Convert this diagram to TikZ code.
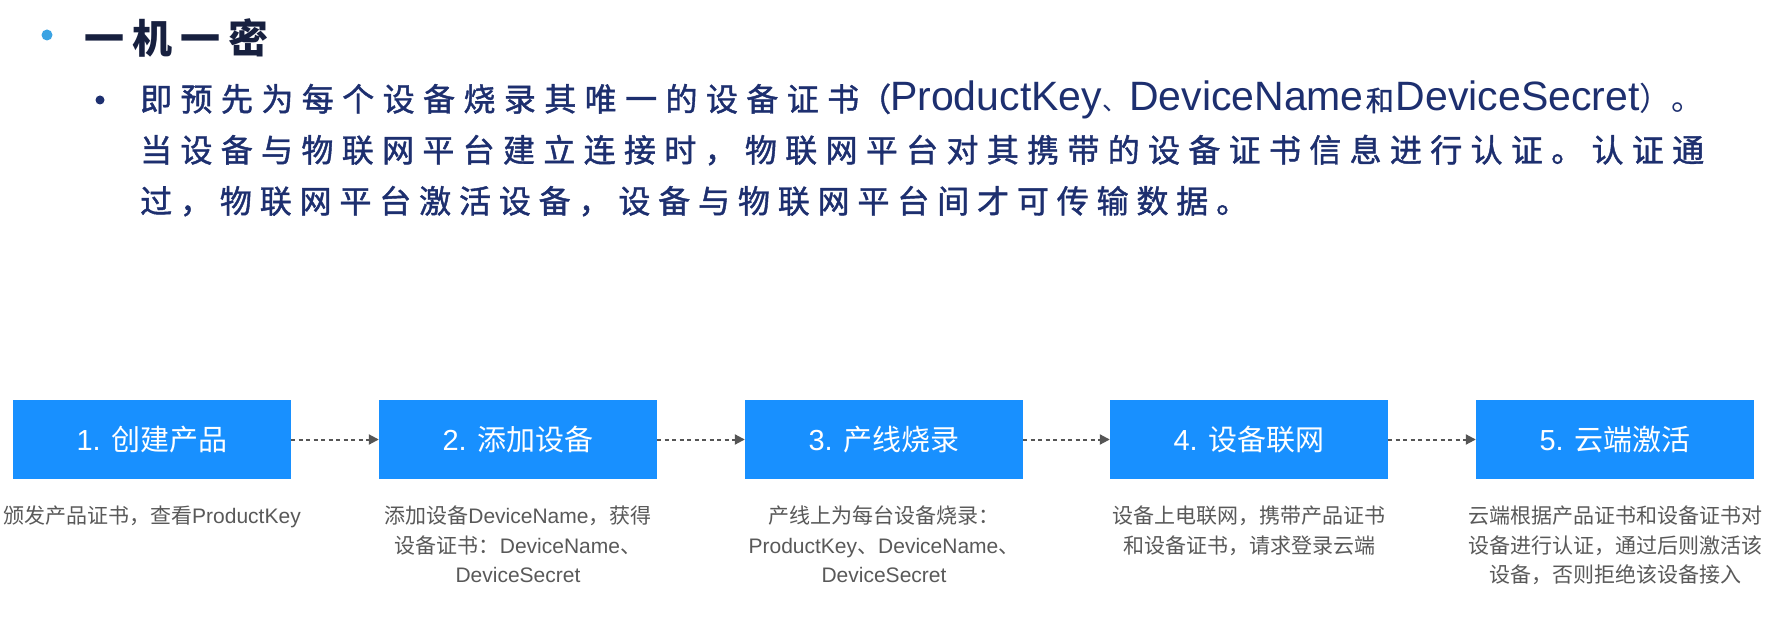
\documentclass[tikz,border=0pt]{standalone}
\usepackage{fontspec}
\setmainfont{Liberation Sans}
\newfontfamily\cjk{Noto Sans CJK SC}
\newfontfamily\cjkM{Noto Sans CJK SC}[FakeBold=1.3]
\newfontfamily\cjkT{Noto Sans CJK SC}[LetterSpace=20]
\usetikzlibrary{arrows.meta}
\definecolor{boxblue}{HTML}{1890FF}
\definecolor{capgray}{HTML}{595959}
\definecolor{arrgray}{HTML}{555555}
\definecolor{navy}{HTML}{1D2F6F}
\definecolor{titlenavy}{HTML}{17203F}
\definecolor{bulletblue}{HTML}{3BA3E3}
\newcommand\myLat[1]{{\rmfamily #1}}
\makeatletter
\newcommand\spreadchars[2]{\hbox to #1{\@tfor\@sc:=#2\do{\@sc\hfil}\unskip}}
\makeatother
\tikzset{
  stepbox/.style={fill=boxblue, minimum width=278pt, minimum height=79pt, inner sep=0pt,
    text=white, font=\fontsize{29}{34}\selectfont},
  conn/.style={draw=arrgray, line width=2pt, dash pattern=on 4pt off 3.5pt,
    -{Triangle[length=10pt,width=10pt]}},
  caption/.style={anchor=north, align=center, inner sep=0pt, text=capgray,
    font=\fontsize{21}{29.5}\selectfont\cjk},
  bodyline/.style={anchor=base west, inner sep=0pt, text=navy,
    font=\fontsize{32}{36}\selectfont\cjkM},
}
\begin{document}
\begin{tikzpicture}[x=1pt,y=-1pt]
\useasboundingbox (0,0) rectangle (1767,623);
\fill[white] (0,0) rectangle (1767,623);
% bullets
\fill[bulletblue] (47,35) circle (5.5pt);
\fill[navy] (100,100) circle (4.5pt);
% title
\node[anchor=base west, inner sep=0pt, text=titlenavy] (title) at (84,54)
  {\fontsize{40}{48}\selectfont\cjkT\bfseries 一机一密};
% body
\node[bodyline] (l1) at (140,111) {\spreadchars{719pt}{即预先为每个设备烧录其唯一的设备证书}（\kern-1pt{\fontsize{41}{48}\selectfont\rmfamily ProductKey}{\fontsize{25}{30}\selectfont\cjk 、}\kern2pt{\fontsize{41}{48}\selectfont\rmfamily DeviceName}\kern2pt{\fontsize{28}{30}\selectfont 和}\kern2pt{\fontsize{41}{48}\selectfont\rmfamily DeviceSecret}{\cjk ）。}};
\node[bodyline] (l2) at (140,162) {\spreadchars{1564pt}{当设备与物联网平台建立连接时，物联网平台对其携带的设备证书信息进行认证。认证通}};
\node[bodyline] (l3) at (140,213) {\spreadchars{1108pt}{过，物联网平台激活设备，设备与物联网平台间才可传输数据。}};
% boxes
\node[stepbox] (b1) at (152,439.5) {1. {\cjk 创建产品}};
\node[stepbox] (b2) at (518,439.5) {2. {\cjk 添加设备}};
\node[stepbox] (b3) at (884,439.5) {3. {\cjk 产线烧录}};
\node[stepbox] (b4) at (1249,439.5) {4. {\cjk 设备联网}};
\node[stepbox] (b5) at (1615,439.5) {5. {\cjk 云端激活}};
% connectors
\draw[conn] (b1.east) -- (b2.west);
\draw[conn] (b2.east) -- (b3.west);
\draw[conn] (b3.east) -- (b4.west);
\draw[conn] (b4.east) -- (b5.west);
% captions
\node[caption] (c1) at (152,506) {颁发产品证书，查看\myLat{ProductKey}};
\node[caption] (c2) at (518,506) {添加设备\myLat{DeviceName}，获得\\设备证书：\myLat{DeviceName}、\\\myLat{DeviceSecret}};
\node[caption] (c3) at (884,506) {产线上为每台设备烧录：\\\myLat{ProductKey}、\myLat{DeviceName}、\\\myLat{DeviceSecret}};
\node[caption] (c4) at (1249,506) {设备上电联网，携带产品证书\\和设备证书，请求登录云端};
\node[caption] (c5) at (1615,506) {云端根据产品证书和设备证书对\\设备进行认证，通过后则激活该\\设备，否则拒绝该设备接入};
\end{tikzpicture}
\end{document}
